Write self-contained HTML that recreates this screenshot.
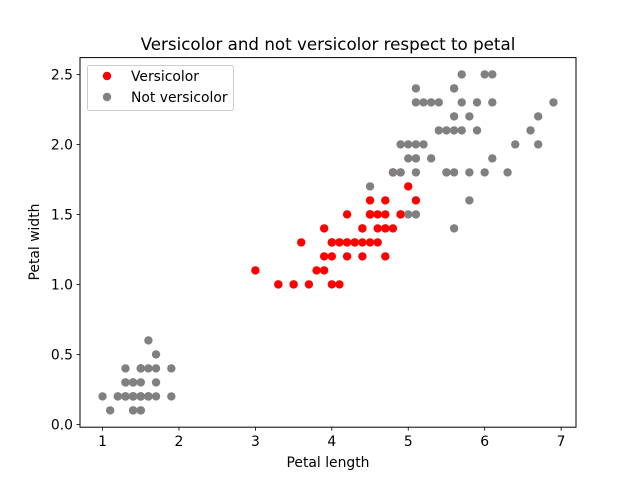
<!DOCTYPE html>
<html><head><meta charset="utf-8"><style>
body{margin:0;background:#fff}
svg{display:block;font-family:"DejaVu Sans","Liberation Sans",sans-serif}
</style></head><body>
<svg id="chart" width="640" height="480" viewBox="0 0 640 480">
<rect width="640" height="480" fill="#fff"/>
<text x="328" y="50" text-anchor="middle" font-size="16.7">Versicolor and not versicolor respect to petal</text>
<g id="ticks"></g>
<g id="points"></g>
<rect x="80" y="57.6" width="496" height="369.6" fill="none" stroke="#000" stroke-width="1"/>
<text x="328" y="467" text-anchor="middle" font-size="13.9">Petal length</text>
<text transform="translate(39,242) rotate(-90)" text-anchor="middle" font-size="13.9">Petal width</text>
<g>
<rect x="87.5" y="65.5" width="146" height="45" rx="2" fill="#fff" fill-opacity="0.8" stroke="#ccc"/>
<g><circle cx="107" cy="76" r="4.2" fill="#ff0000"/><text x="131" y="81" font-size="13.9">Versicolor</text></g>
<g><circle cx="107" cy="97" r="4.2" fill="#808080"/><text x="131" y="102" font-size="13.9">Not versicolor</text></g>
</g>
</svg>
<script>
const versLength=[4.7,4.5,4.9,4.0,4.6,4.5,4.7,3.3,4.6,3.9,3.5,4.2,4.0,4.7,3.6,4.4,4.5,4.1,4.5,3.9,4.8,4.0,4.9,4.7,4.3,4.4,4.8,5.0,4.5,3.5,3.8,3.7,3.9,5.1,4.5,4.5,4.7,4.4,4.1,4.0,4.4,4.6,4.0,3.3,4.2,4.2,4.2,4.3,3.0,4.1];
const versWidth=[1.4,1.5,1.5,1.3,1.5,1.3,1.6,1.0,1.3,1.4,1.0,1.5,1.0,1.4,1.3,1.4,1.5,1.0,1.5,1.1,1.8,1.3,1.5,1.2,1.3,1.4,1.4,1.7,1.5,1.0,1.1,1.0,1.2,1.6,1.5,1.6,1.5,1.3,1.3,1.3,1.2,1.4,1.2,1.0,1.3,1.2,1.3,1.3,1.1,1.3];
const otherLength=[1.4,1.4,1.3,1.5,1.4,1.7,1.4,1.5,1.4,1.5,1.5,1.6,1.4,1.1,1.2,1.5,1.3,1.4,1.7,1.5,1.7,1.5,1.0,1.7,1.9,1.6,1.6,1.5,1.4,1.6,1.6,1.5,1.5,1.4,1.5,1.2,1.3,1.4,1.3,1.5,1.3,1.3,1.3,1.6,1.9,1.4,1.6,1.4,1.5,1.4,
6.0,5.1,5.9,5.6,5.8,6.6,4.5,6.3,5.8,6.1,5.1,5.3,5.5,5.0,5.1,5.3,5.5,6.7,6.9,5.0,5.7,4.9,6.7,4.9,5.7,6.0,4.8,4.9,5.6,5.8,6.1,6.4,5.6,5.1,5.6,6.1,5.6,5.5,4.8,5.4,5.6,5.1,5.1,5.9,5.7,5.2,5.0,5.2,5.4,5.1];
const otherWidth=[0.2,0.2,0.2,0.2,0.2,0.4,0.3,0.2,0.2,0.1,0.2,0.2,0.1,0.1,0.2,0.4,0.4,0.3,0.3,0.3,0.2,0.4,0.2,0.5,0.2,0.2,0.4,0.2,0.2,0.2,0.2,0.4,0.1,0.2,0.2,0.2,0.2,0.1,0.2,0.2,0.3,0.3,0.2,0.6,0.4,0.3,0.2,0.2,0.2,0.2,
2.5,1.9,2.1,1.8,2.2,2.1,1.7,1.8,1.8,2.5,2.0,1.9,2.1,2.0,2.4,2.3,1.8,2.2,2.3,1.5,2.3,2.0,2.0,1.8,2.1,1.8,1.8,1.8,2.1,1.6,1.9,2.0,2.2,1.5,1.4,2.3,2.4,1.8,1.8,2.1,2.4,2.3,1.9,2.3,2.5,2.3,1.9,2.0,2.3,1.8];
const xTicks=[1,2,3,4,5,6,7];
const yTicks=[0.0,0.5,1.0,1.5,2.0,2.5];
const yTickLabels=["0.0","0.5","1.0","1.5","2.0","2.5"];

const NS="http://www.w3.org/2000/svg";
const X0=80,X1=576,Y0=427.2,Y1=57.6;
const allX=versLength.concat(otherLength), allY=versWidth.concat(otherWidth);
const xmin=Math.min(...allX),xmax=Math.max(...allX),ymin=Math.min(...allY),ymax=Math.max(...allY);
const xlo=xmin-(xmax-xmin)*0.05,xhi=xmax+(xmax-xmin)*0.05;
const ylo=ymin-(ymax-ymin)*0.05,yhi=ymax+(ymax-ymin)*0.05;
function sx(v){return X0+(v-xlo)/(xhi-xlo)*(X1-X0);}
function sy(v){return Y0-(v-ylo)/(yhi-ylo)*(Y0-Y1);}
function mk(tag,attrs){const e=document.createElementNS(NS,tag);for(const k in attrs)e.setAttribute(k,attrs[k]);return e;}
const tg=document.getElementById('ticks');
xTicks.forEach(t=>{const x=sx(t);
 const l=mk('line',{x1:x,x2:x,y1:Y0,y2:Y0+3.5,stroke:'#000','stroke-width':0.8});
 
 
 tg.appendChild(l);
 const tx=mk('text',{x:x,y:Y0+19,'text-anchor':'middle','font-size':13.9});tx.textContent=String(t);
 
 
 tg.appendChild(tx);});
yTicks.forEach((t,i)=>{const y=sy(t);
 const l=mk('line',{x1:X0-3.5,x2:X0,y1:y,y2:y,stroke:'#000','stroke-width':0.8});
 
 
 tg.appendChild(l);
 const tx=mk('text',{x:X0-7,y:y+5,'text-anchor':'end','font-size':13.9});tx.textContent=yTickLabels[i];
 
 
 tg.appendChild(tx);});
const pg=document.getElementById('points');
versLength.forEach((v,i)=>{const c=mk('circle',{cx:sx(v),cy:sy(versWidth[i]),r:4.2,fill:'#ff0000'});
 
 
 pg.appendChild(c);});
otherLength.forEach((v,i)=>{const c=mk('circle',{cx:sx(v),cy:sy(otherWidth[i]),r:4.2,fill:'#808080'});
 
 
 pg.appendChild(c);});
</script>
</body></html>
